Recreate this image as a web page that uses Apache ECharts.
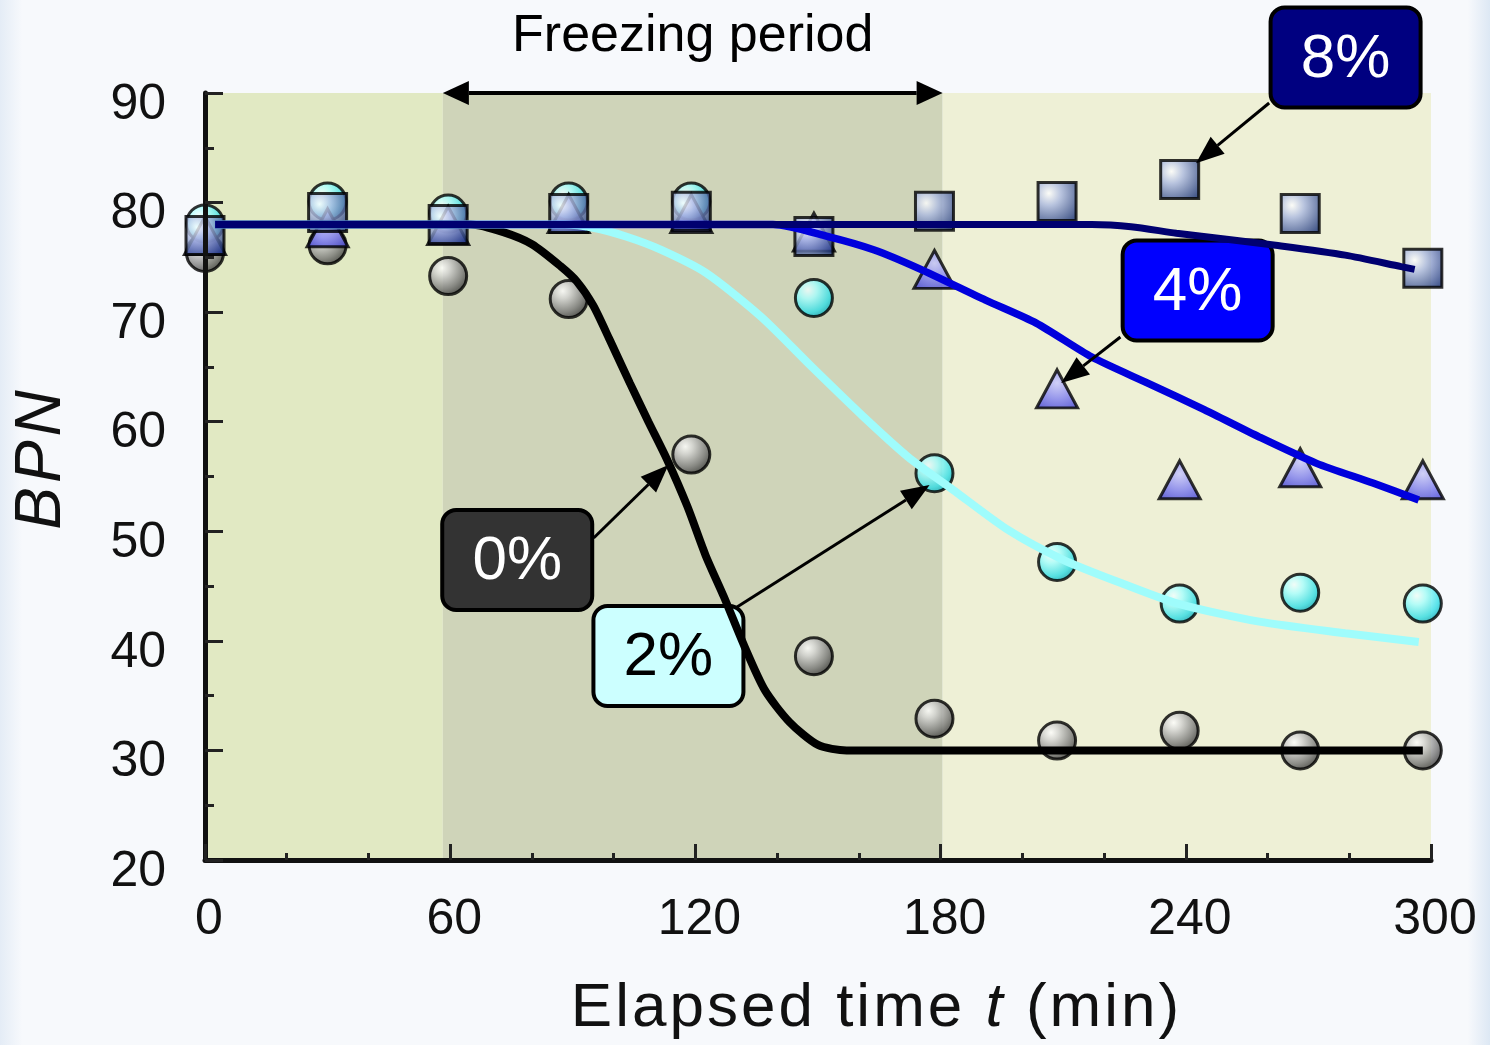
<!DOCTYPE html>
<html><head><meta charset="utf-8">
<script src="https://cdn.jsdelivr.net/npm/echarts@6/dist/echarts.min.js"></script>
<style>html,body{margin:0;padding:0;background:#f6f9fc}#c{width:1490px;height:1045px}</style>
</head><body><div id="c"></div>
<script>
// ---- data ----
const times = [0, 30, 59.5, 89, 119, 149, 178.5, 208.5, 238.5, 268, 298];
const bpn0 = [75.4, 76.1, 73.3, 71.2, 57.0, 38.6, 32.9, 30.9, 31.8, 30.0, 30.0];
const bpn2 = [78.1, 80.1, 79.0, 80.1, 80.1, 71.3, 55.3, 47.2, 43.4, 44.4, 43.4];
const bpn4 = [77.0, 77.7, 77.9, 79.0, 79.0, 77.3, 73.9, 63.0, 54.7, 55.8, 54.7];
const bpn8 = [77.0, 79.1, 78.0, 79.0, 79.2, 76.9, 79.2, 80.1, 82.1, 79.0, 74.0];

const fit0T = [2.5, 65, 73, 80, 87, 91, 95, 99, 104, 108.5, 113, 118, 122.5, 127, 132, 137, 143, 150, 157, 298];
const fit0V = [78, 78, 77.3, 76.2, 74.2, 72.8, 70.6, 67.5, 63.5, 60.0, 56.6, 52.3, 47.8, 44.0, 39.5, 35.5, 32.6, 30.5, 30, 30];
const fit2T = [2.5, 88, 95, 103, 111.5, 122.5, 136, 148.5, 161, 172, 183, 196.6, 210, 224, 238, 258, 279, 297];
const fit2V = [78, 78, 77.7, 76.9, 75.7, 73.6, 69.6, 65, 60.5, 56.8, 53.8, 50.1, 47.4, 45.3, 43.4, 41.75, 40.7, 39.9];
const fit4T = [2.5, 139, 152.5, 163.6, 174.6, 191, 203.4, 217, 230.8, 244.5, 258, 272, 285.8, 297];
const fit4V = [78, 78, 76.9, 75.7, 74.0, 71.1, 69.0, 65.9, 63.5, 61.1, 58.6, 56.2, 54.4, 52.85];
const fit8T = [2.5, 217, 226.6, 237.7, 251, 262, 279, 292.7, 296];
const fit8V = [78, 78, 77.8, 77.2, 76.6, 76.1, 75.2, 74.15, 73.9];

const freezeRange = [58.2, 180.5];
const xRange = [0, 300], xStep = 60;
const yRange = [20, 90], yStep = 10;

// annotation anchors in data coordinates
const boxLabels = ['0%', '2%', '4%', '8%'];
const boxT = [76.4, 113.4, 242.9, 279.1];
const boxV = [47.38, 38.62, 71.97, 93.24];
const arrowFromT = [95.1, 129.8, 224.0, 260.4];
const arrowFromV = [49.39, 43.0, 67.73, 89.09];
const arrowToT = [113.4, 177.3, 209.5, 242.5];
const arrowToV = [56.05, 54.22, 63.53, 83.6];

// ---- styles ----
const FONT = '"Liberation Sans", Arial, Helvetica, sans-serif';
const boxFill = ['#333333', '#ccffff', '#0000ff', '#000080'];
const boxInk = ['#ffffff', '#000000', '#ffffff', '#ffffff'];

const zip = (a, b) => a.map((v, i) => [v, b[i]]);
function radial(x, y, r, stops) {
  return {type: 'radial', x: x, y: y, r: r, colorStops: stops.map(s => ({offset: s[0], color: s[1]}))};
}
function head(tip, from, len, hw) {
  const dx = tip[0] - from[0], dy = tip[1] - from[1];
  const L = Math.hypot(dx, dy), ux = dx / L, uy = dy / L;
  const bx = tip[0] - ux * len, by = tip[1] - uy * len;
  return {pts: [[tip[0], tip[1]], [bx - uy * hw, by + ux * hw], [bx + uy * hw, by - ux * hw]], base: [bx, by]};
}
// spaced rich text: each char a token with side padding
function spaced(parts) {
  return parts.map(p => p[0].split('').map(c => '{' + p[1] + '|' + c + '}').join('')).join('');
}

const chart = echarts.init(document.getElementById('c'), null, {renderer: 'canvas'});

const scatterBase = {type: 'scatter', z: 2};

const option = {
  animation: false,
  backgroundColor: {type: 'linear', x: 0, y: 0, x2: 1, y2: 0, colorStops: [
    {offset: 0, color: '#e4ecf6'}, {offset: 0.015, color: '#f7f9fc'},
    {offset: 0.985, color: '#f7f9fc'}, {offset: 1, color: '#dde8f4'}]},
  grid: {left: 205, right: 59, top: 93, bottom: 185, containLabel: false, outerBoundsMode: 'none'},
  xAxis: {
    type: 'value', min: xRange[0], max: xRange[1], interval: xStep, z: 5,
    axisLine: {show: true, lineStyle: {color: '#111', width: 5}},
    axisTick: {show: true, inside: true, length: 16, lineStyle: {color: '#222', width: 3}},
    minorTick: {show: true, splitNumber: 3, length: 7, lineStyle: {color: '#222', width: 3}},
    splitLine: {show: false},
    axisLabel: {show: true, margin: 35, color: '#111', showMinLabel: true, showMaxLabel: true,
      formatter: '{a|{value}}', rich: {a: {fontSize: 50, fontFamily: FONT, color: '#111', padding: [0, 0, 0, 8]}}}
  },
  yAxis: {
    type: 'value', min: yRange[0], max: yRange[1], interval: yStep, z: 5,
    axisLine: {show: true, lineStyle: {color: '#111', width: 5}},
    axisTick: {show: true, inside: true, length: 18, lineStyle: {color: '#222', width: 3}},
    minorTick: {show: true, splitNumber: 2, length: 9, lineStyle: {color: '#222', width: 3}},
    splitLine: {show: false},
    axisLabel: {show: true, margin: 39, color: '#111', showMinLabel: true, showMaxLabel: true,
      formatter: '{a|{value}}', rich: {a: {fontSize: 50, fontFamily: FONT, color: '#111', padding: [24, 0, 0, 0]}}}
  },
  graphic: [
    {type: 'text', x: 875, y: 1009, z: 10, style: {
      text: spaced([['Elapsed time ', 'a'], ['t', 'b'], [' (min)', 'a']]),
      textAlign: 'center', textVerticalAlign: 'middle', fill: '#111',
      rich: {a: {fontSize: 62, fontFamily: FONT, fill: '#111', padding: [0, 1.5, 0, 1.5]},
             b: {fontSize: 62, fontStyle: 'italic', fontFamily: FONT, fill: '#111', padding: [0, 1.5, 0, 1.5]}}}},
    {type: 'text', x: 42, y: 460, rotation: Math.PI / 2, z: 10, style: {
      text: spaced([['BPN', 'b']]), textAlign: 'center', textVerticalAlign: 'middle', fill: '#111',
      rich: {b: {fontSize: 64, fontStyle: 'italic', fontFamily: FONT, fill: '#111', padding: [0, 2, 0, 2]}}}}
  ],
  series: [
    {type: 'line', z: 1, data: [], silent: true,
      markArea: {silent: true, data: [
        [{xAxis: xRange[0], itemStyle: {color: '#e1e9c3'}}, {xAxis: freezeRange[0]}],
        [{xAxis: freezeRange[0], itemStyle: {color: '#cfd4b9'}}, {xAxis: freezeRange[1]}],
        [{xAxis: freezeRange[1], itemStyle: {color: '#eef0d6'}}, {xAxis: xRange[1]}]
      ]}},
    Object.assign({}, scatterBase, {name: '0%', symbol: 'circle', symbolSize: 37, data: zip(times, bpn0),
      itemStyle: {borderColor: '#000', borderWidth: 3, color: radial(0.35, 0.3, 0.75, [[0, '#ffffff'], [0.25, '#d4d4d4'], [0.7, '#767676'], [1, '#2e2e2e']])}}),
    Object.assign({}, scatterBase, {name: '2%', symbol: 'circle', symbolSize: 37, data: zip(times, bpn2),
      itemStyle: {borderColor: '#000', borderWidth: 3, color: radial(0.35, 0.3, 0.75, [[0, '#f2ffff'], [0.3, '#a6ffff'], [0.75, '#30dce4'], [1, '#0c9eae']])}}),
    Object.assign({}, scatterBase, {name: '4%', symbol: 'triangle', symbolSize: [41, 38], data: zip(times, bpn4),
      itemStyle: {borderColor: '#000', borderWidth: 3, color: radial(0.5, 0.35, 0.8, [[0, '#c8c8ff'], [0.5, '#8080f0'], [1, '#3434d0']])}}),
    Object.assign({}, scatterBase, {name: '8%', symbol: 'rect', symbolSize: 38, data: zip(times, bpn8),
      itemStyle: {borderColor: '#000', borderWidth: 3, color: radial(0.3, 0.3, 0.85, [[0, '#ffffff'], [0.35, '#aab8e0'], [1, '#1c3478']])}}),
    {type: 'custom', z: 2.5, clip: false, silent: true,
      data: boxT.map((t, i) => [t, boxV[i], i]),
      encode: {x: 0, y: 1},
      renderItem: function (params, api) {
        const p = api.coord([api.value(0), api.value(1)]);
        const i = api.value(2);
        return {type: 'group', children: [
          {type: 'rect', shape: {x: p[0] - 75, y: p[1] - 50, width: 150, height: 100, r: 14},
            style: {fill: boxFill[i], stroke: '#000', lineWidth: 4}},
          {type: 'text', x: p[0], y: p[1] + 2, style: {text: boxLabels[i], fill: boxInk[i],
            font: '62px ' + FONT, textAlign: 'center', textVerticalAlign: 'middle'}}
        ]};
      }},
    {type: 'line', name: 'fit0', z: 3, symbol: 'none', smooth: 0.25, data: zip(fit0T, fit0V), lineStyle: {color: '#000000', width: 8}},
    {type: 'line', name: 'fit2', z: 3, symbol: 'none', smooth: 0.25, data: zip(fit2T, fit2V), lineStyle: {color: '#9ffcfc', width: 8}},
    {type: 'line', name: 'fit4', z: 3, symbol: 'none', smooth: 0.25, data: zip(fit4T, fit4V), lineStyle: {color: '#0000dc', width: 7.5}},
    {type: 'line', name: 'fit8', z: 3, symbol: 'none', smooth: 0.25, data: zip(fit8T, fit8V), lineStyle: {color: '#000070', width: 7}},
    {type: 'custom', z: 4, clip: false, silent: true,
      data: arrowFromT.map((t, i) => [t, arrowFromV[i], arrowToT[i], arrowToV[i]]),
      encode: {x: [0, 2], y: [1, 3]},
      renderItem: function (params, api) {
        const a = api.coord([api.value(0), api.value(1)]);
        const b = api.coord([api.value(2), api.value(3)]);
        const h = head(b, a, 28, 11);
        return {type: 'group', children: [
          {type: 'line', shape: {x1: a[0], y1: a[1], x2: h.base[0], y2: h.base[1]}, style: {stroke: '#000', lineWidth: 3}},
          {type: 'polygon', shape: {points: h.pts}, style: {fill: '#000'}}
        ]};
      }},
    {type: 'custom', z: 4, clip: false, silent: true,
      data: [[freezeRange[0], yRange[1], freezeRange[1], yRange[1]]],
      encode: {x: [0, 2], y: [1, 3]},
      renderItem: function (params, api) {
        const a = api.coord([api.value(0), api.value(1)]);
        const b = api.coord([api.value(2), api.value(3)]);
        const h1 = head(a, b, 26, 12), h2 = head(b, a, 26, 12);
        return {type: 'group', children: [
          {type: 'line', shape: {x1: h1.base[0], y1: h1.base[1], x2: h2.base[0], y2: h2.base[1]}, style: {stroke: '#000', lineWidth: 4}},
          {type: 'polygon', shape: {points: h1.pts}, style: {fill: '#000'}},
          {type: 'polygon', shape: {points: h2.pts}, style: {fill: '#000'}},
          {type: 'text', x: (a[0] + b[0]) / 2, y: a[1] - 56, style: {text: 'Freezing period', fill: '#000',
            font: '52px ' + FONT, textAlign: 'center', textVerticalAlign: 'middle'}}
        ]};
      }}
  ]
};
chart.setOption(option);
</script>
</body></html>
